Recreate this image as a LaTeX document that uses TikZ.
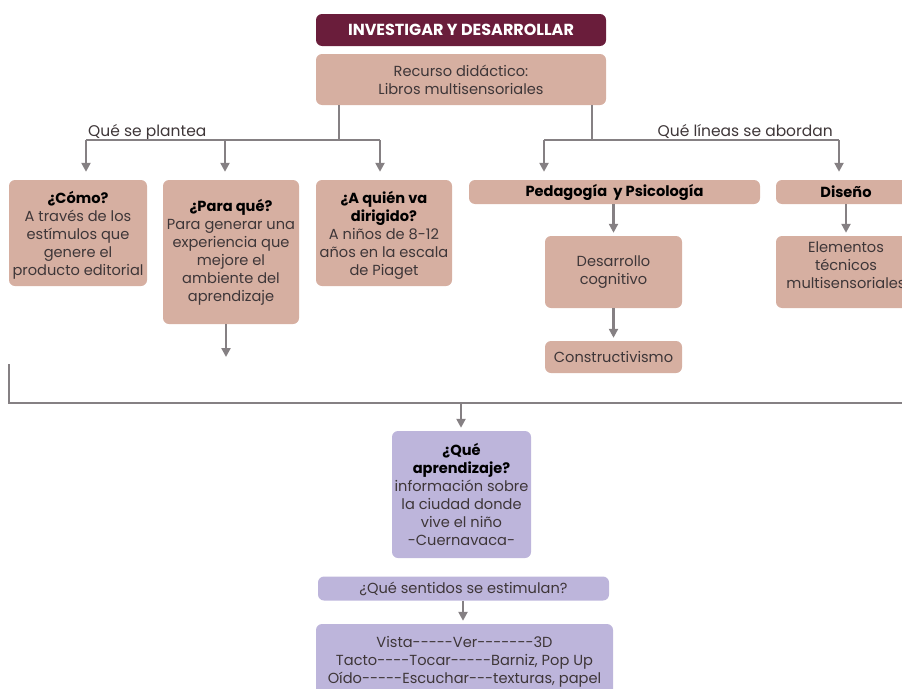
\documentclass[tikz,border=0pt]{standalone}
\usepackage{fontspec}
\setmainfont{Poppins}
\usetikzlibrary{arrows.meta}
\definecolor{maroon}{HTML}{6A1D3B}
\definecolor{rose}{HTML}{D6AFA1}
\definecolor{lilac}{HTML}{BDB5DB}
\definecolor{wire}{HTML}{858083}
\definecolor{ink}{HTML}{3E3638}
\newcommand{\hd}[1]{{\bfseries\color{black}#1}}
% a single hyphen kept apart so that runs of them stay hyphens
\newcommand{\hy}{\mbox{-}}
\begin{document}
\begin{tikzpicture}[x=1pt,y=-1pt,
  box/.style={rounded corners=6pt, align=center, inner sep=0pt, text=ink,
    font=\fontsize{14.6}{18}\selectfont},
  rosebox/.style={box, fill=rose},
  lilacbox/.style={box, fill=lilac},
  wireline/.style={draw=wire, line width=2.4pt},
  arr/.style={wireline, -{Triangle[width=9pt,length=9pt]}, shorten >=3pt},
  lbl/.style={font=\fontsize{15.5}{18}\selectfont, text=ink, inner sep=0pt}]
\useasboundingbox (0,0) rectangle (902,688);
\clip (0,0) rectangle (902,688);

% header
\node[box, fill=maroon, text=white, font=\fontsize{16}{18}\bfseries,
  minimum width=290pt, minimum height=32pt] (title) at (461,30) {INVESTIGAR Y DESARROLLAR};
\node[rosebox, minimum width=290pt, minimum height=51pt] (recurso) at (461,79.5)
  {Recurso didáctico:\\Libros multisensoriales};

% first row
\node[rosebox, minimum width=138pt, minimum height=106pt, text depth=-2pt] (como) at (78,233)
  {\hd{¿Cómo?}\\A través de los\\estímulos que\\genere el\\producto editorial};
\node[rosebox, minimum width=136pt, minimum height=144pt] (parque) at (231,252)
  {\hd{¿Para qué?}\\Para generar una\\experiencia que\\mejore el\\ambiente del\\aprendizaje};
\node[rosebox, minimum width=136pt, minimum height=106pt, text depth=-6pt] (quien) at (384,233)
  {\hd{¿A quién va}\\\hd{dirigido?}\\A niños de 8-12\\años en la escala\\de Piaget};
\node[rosebox, minimum width=291pt, minimum height=24pt] (pedag) at (614.5,192)
  {\hd{Pedagogía\ \ y Psicología}};
\node[rosebox, minimum width=140pt, minimum height=24pt] (diseno) at (846,192)
  {\hd{Diseño}};

% second level on the right
\node[rosebox, minimum width=137pt, minimum height=72pt] (desarrollo) at (613.5,272)
  {Desarrollo\\cognitivo};
\node[rosebox, minimum width=137pt, minimum height=32pt] (constr) at (613.5,357)
  {Constructivismo};
\node[rosebox, minimum width=140pt, minimum height=72pt, text depth=14pt] (elem) at (846,272)
  {Elementos\\técnicos\\multisensoriales};

% lower column
\node[lilacbox, minimum width=139pt, minimum height=127pt] (aprend) at (461.5,494.5)
  {\hd{¿Qué}\\\hd{aprendizaje?}\\información sobre\\la ciudad donde\\vive el niño\\\hy Cuernavaca\hy};
\node[lilacbox, minimum width=291pt, minimum height=24pt] (sentidos) at (463.5,588.5)
  {¿Qué sentidos se estimulan?};
\node[lilacbox, minimum width=297pt, minimum height=76pt] (tabla) at (464.5,662)
  {Vista\hy\hy\hy\hy\hy Ver\hy\hy\hy\hy\hy\hy\hy 3D\\
   Tacto\hy\hy\hy\hy Tocar\hy\hy\hy\hy\hy Barniz, Pop Up\\
   Oído\hy\hy\hy\hy\hy Escuchar\hy\hy\hy texturas, papel};

% branch points
\coordinate (ls) at (339,140);
\coordinate (la) at (86,140);
\coordinate (lb) at (225,140);
\coordinate (lc) at (380,140);
\coordinate (rs) at (592,140);
\coordinate (ra) at (544,140);
\coordinate (rb) at (839,140);
\coordinate (pend) at (226,357);
\coordinate (jl) at (9,364);
\coordinate (jc) at (461,403);
\coordinate (jr) at (910,403);
\coordinate (sc) at (463,600);

% branch labels
\node[lbl, anchor=base west] (qsp) at (88,136) {Qué se plantea};
\node[lbl, anchor=base east] (qla) at (833,136) {Qué líneas se abordan};

% connectors
\draw[wireline] (recurso.south -| ls) -- (ls);
\draw[wireline] (la) -- (lc);
\draw[arr, shorten >=8pt] (la) -- (la |- como.north);
\draw[arr, shorten >=8pt] (lb) -- (lb |- parque.north);
\draw[arr, shorten >=8pt] (lc) -- (lc |- quien.north);

\draw[wireline] (recurso.south -| rs) -- (rs);
\draw[wireline] (ra) -- (rb);
\draw[arr, shorten >=8pt] (ra) -- (ra |- pedag.north);
\draw[arr, shorten >=8pt] (rb) -- (rb |- diseno.north);

\draw[arr] (pedag.south -| desarrollo) -- (desarrollo.north);
\draw[arr] (desarrollo.south) -- (constr.north);
\draw[arr] (diseno.south) -- (elem.north);

\draw[arr, shorten >=0pt] (parque.south -| pend) -- (pend);

\draw[wireline] (jl) |- (jr);
\draw[arr] (jc) -- (jc |- aprend.north);
\draw[arr] (sentidos.south -| sc) -- (tabla.north -| sc);
\end{tikzpicture}
\end{document}
